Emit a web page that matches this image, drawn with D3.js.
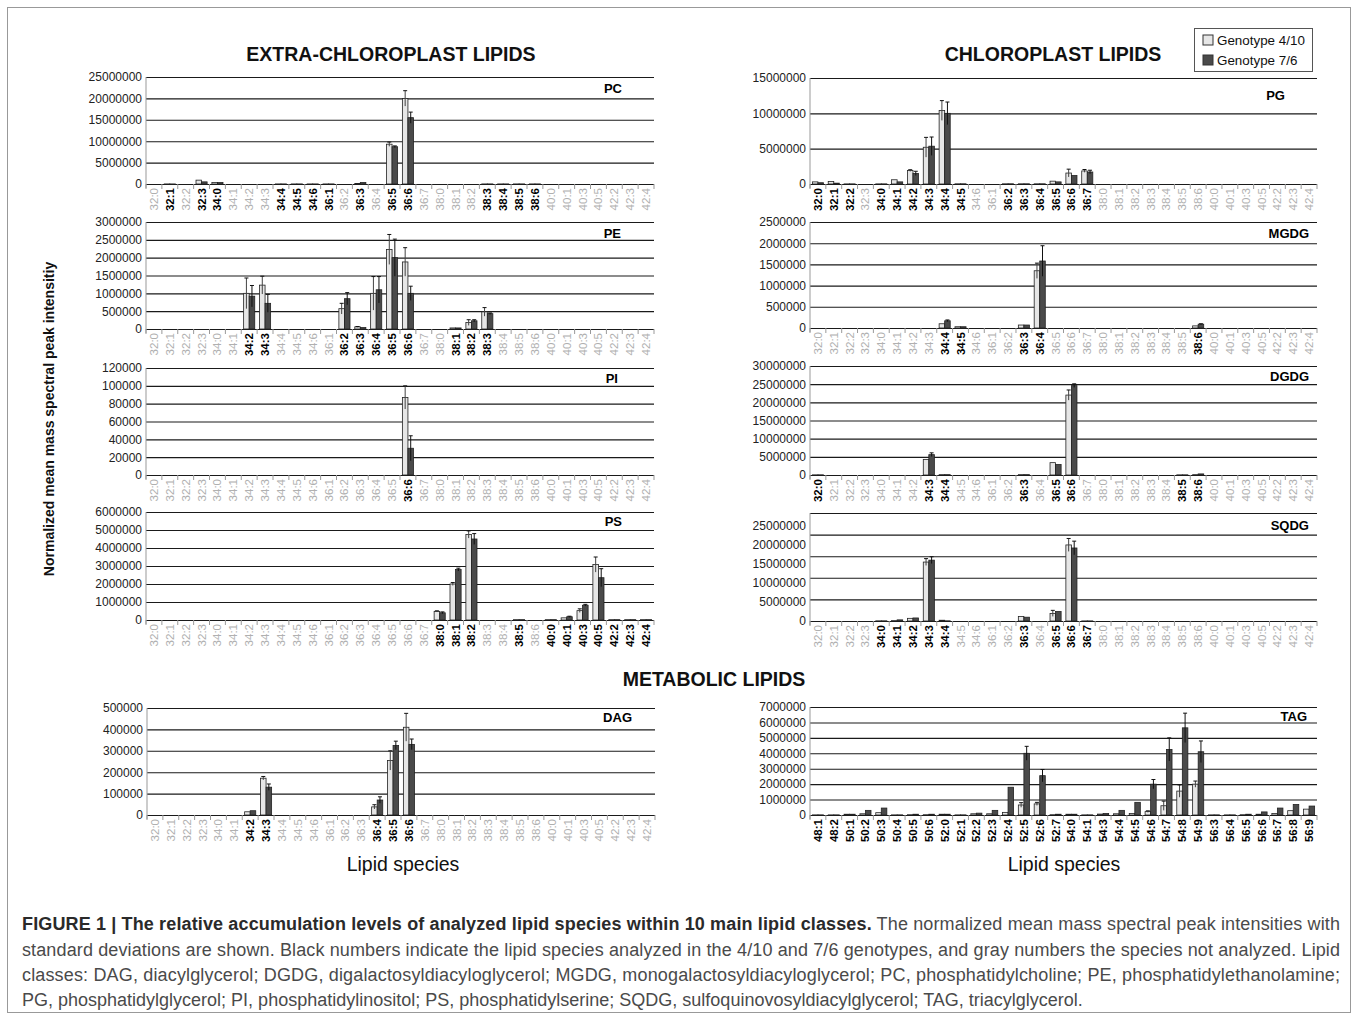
<!DOCTYPE html>
<html>
<head>
<meta charset="utf-8">
<script src="https://cdn.jsdelivr.net/npm/d3@7"></script>
<style>
  body { margin: 0; background: #fff; }
  svg { display: block; }
  text { font-family: "Liberation Sans", Arial, sans-serif; }
</style>
</head>
<body>
<svg id="fig" width="1358" height="1020"></svg>
<script>
// lipid species on the x axis of the nine phospho/galacto/sulfo lipid panels
const species = ["32:0","32:1","32:2","32:3","34:0","34:1","34:2","34:3","34:4","34:5","34:6",
  "36:1","36:2","36:3","36:4","36:5","36:6","36:7","38:0","38:1","38:2","38:3","38:4","38:5","38:6",
  "40:0","40:1","40:3","40:5","42:2","42:3","42:4"];
// TAG species
const tagSpecies = ["48:1","48:2","50:1","50:2","50:3","50:4","50:5","50:6","52:0","52:1","52:2","52:3",
  "52:4","52:5","52:6","52:7","54:0","54:1","54:3","54:4","54:5","54:6","54:7","54:8","54:9",
  "56:3","56:4","56:5","56:6","56:7","56:8","56:9"];

const genotypes = ["Genotype 4/10", "Genotype 7/6"];

// rows: [species, mean 4/10, sd 4/10, mean 7/6, sd 7/6]  (only analysed species = black labels)
const pcRows = [
  ["32:1", 20000, 0, 15000, 0], ["32:3", 900000, 0, 500000, 0], ["34:0", 350000, 0, 350000, 0],
  ["34:4", 20000, 0, 20000, 0], ["34:5", 20000, 0, 20000, 0], ["34:6", 20000, 0, 20000, 0],
  ["36:1", 20000, 0, 20000, 0], ["36:3", 100000, 0, 350000, 0],
  ["36:5", 9300000, 500000, 8700000, 200000], ["36:6", 20000000, 1800000, 15500000, 1300000],
  ["38:3", 20000, 0, 20000, 0], ["38:4", 20000, 0, 20000, 0], ["38:5", 20000, 0, 20000, 0], ["38:6", 20000, 0, 20000, 0]
];
const peRows = [
  ["34:2", 1000000, 430000, 920000, 300000], ["34:3", 1230000, 250000, 720000, 250000],
  ["36:2", 570000, 150000, 850000, 170000], ["36:3", 60000, 10000, 40000, 0],
  ["36:4", 1000000, 470000, 1100000, 370000], ["36:5", 2230000, 420000, 2000000, 520000],
  ["36:6", 1880000, 400000, 1000000, 200000], ["38:1", 30000, 0, 30000, 0],
  ["38:2", 180000, 80000, 230000, 30000], ["38:3", 480000, 120000, 430000, 20000]
];
const piRows = [
  ["36:6", 87000, 13000, 30000, 14000]
];
const psRows = [
  ["38:0", 480000, 30000, 400000, 50000], ["38:1", 2000000, 80000, 2800000, 80000],
  ["38:2", 4750000, 200000, 4500000, 300000], ["38:5", 20000, 0, 20000, 0], ["40:0", 20000, 0, 20000, 0],
  ["40:1", 120000, 0, 180000, 30000], ["40:3", 520000, 100000, 820000, 50000],
  ["40:5", 3080000, 420000, 2350000, 500000], ["42:2", 20000, 0, 20000, 0], ["42:3", 20000, 0, 20000, 0],
  ["42:4", 20000, 0, 20000, 0]
];
const pgRows = [
  ["32:0", 300000, 0, 180000, 0], ["32:1", 350000, 0, 120000, 0], ["32:2", 20000, 0, 20000, 0],
  ["34:0", 20000, 0, 20000, 0], ["34:1", 600000, 0, 300000, 0], ["34:2", 1900000, 120000, 1500000, 300000],
  ["34:3", 5200000, 1400000, 5350000, 1300000], ["34:4", 10400000, 1400000, 10000000, 1600000],
  ["34:5", 30000, 0, 30000, 0], ["36:2", 30000, 0, 30000, 0], ["36:3", 30000, 0, 30000, 0],
  ["36:4", 30000, 0, 30000, 0], ["36:5", 400000, 0, 300000, 0], ["36:6", 1550000, 550000, 1200000, 0],
  ["36:7", 1850000, 200000, 1700000, 250000]
];
const mgdgRows = [
  ["34:4", 100000, 0, 170000, 20000], ["34:5", 30000, 0, 30000, 0], ["36:3", 70000, 0, 70000, 0],
  ["36:4", 1350000, 180000, 1580000, 360000], ["38:6", 50000, 0, 90000, 10000]
];
const dgdgRows = [
  ["32:0", 50000, 0, 50000, 0], ["34:3", 4300000, 0, 5600000, 500000], ["34:4", 100000, 0, 100000, 0],
  ["36:3", 100000, 0, 100000, 0], ["36:5", 3400000, 0, 2900000, 0], ["36:6", 22000000, 1400000, 24600000, 500000],
  ["38:5", 50000, 0, 50000, 0], ["38:6", 100000, 0, 300000, 0]
];
const sqdgRows = [
  ["34:0", 50000, 0, 50000, 0], ["34:1", 100000, 0, 300000, 0], ["34:2", 700000, 0, 800000, 0],
  ["34:3", 15500000, 900000, 16000000, 900000], ["34:4", 200000, 0, 50000, 0],
  ["36:3", 1200000, 0, 1000000, 0], ["36:5", 2000000, 800000, 2500000, 0],
  ["36:6", 20000000, 1700000, 19200000, 1800000], ["36:7", 30000, 0, 30000, 0]
];
const dagRows = [
  ["34:2", 15000, 0, 20000, 0], ["34:3", 172000, 8000, 130000, 15000],
  ["36:4", 38000, 10000, 70000, 15000], ["36:5", 255000, 45000, 325000, 20000],
  ["36:6", 410000, 65000, 330000, 25000]
];
const tagRows = [
  ["48:1", 10000, 0, 10000, 0], ["48:2", 10000, 0, 10000, 0], ["50:1", 50000, 0, 50000, 0],
  ["50:2", 80000, 0, 300000, 0], ["50:3", 150000, 0, 450000, 0], ["50:4", 10000, 0, 10000, 0],
  ["50:5", 20000, 0, 50000, 0], ["50:6", 20000, 0, 50000, 0], ["52:0", 50000, 0, 50000, 0],
  ["52:1", 10000, 0, 10000, 0], ["52:2", 80000, 0, 120000, 0], ["52:3", 80000, 0, 300000, 0],
  ["52:4", 170000, 0, 1800000, 0], ["52:5", 650000, 150000, 4000000, 450000],
  ["52:6", 720000, 100000, 2550000, 400000], ["52:7", 20000, 0, 50000, 0], ["54:0", 50000, 0, 50000, 0],
  ["54:1", 10000, 0, 10000, 0], ["54:3", 60000, 0, 100000, 0], ["54:4", 80000, 0, 300000, 0],
  ["54:5", 100000, 0, 820000, 0], ["54:6", 220000, 50000, 2000000, 300000],
  ["54:7", 600000, 300000, 4250000, 750000], ["54:8", 1550000, 400000, 5650000, 950000],
  ["54:9", 2000000, 200000, 4100000, 700000], ["56:3", 10000, 0, 10000, 0], ["56:4", 10000, 0, 10000, 0],
  ["56:5", 20000, 0, 50000, 0], ["56:6", 50000, 0, 200000, 0], ["56:7", 100000, 0, 450000, 0],
  ["56:8", 280000, 0, 680000, 0], ["56:9", 380000, 0, 580000, 0]
];
// SQDG axis in the original has uneven labels over five equal grid bands
const sqdgTicks = [0, 5000000, 10000000, 15000000, 20000000, 25000000];

const svg = d3.select("#fig");
const LIGHT = "#e6e6e6", DARK = "#4a4a4a";

const L = [146, 654], R = [810, 1317];
const panels = [
  { name: "PC", rows: pcRows, cats: species, x: L, y: [77, 184], max: 25e6, step: 5e6, lab: [622, 16] },
  { name: "PE", rows: peRows, cats: species, x: L, y: [222, 329], max: 3e6, step: 5e5, lab: [621, 16] },
  { name: "PI", rows: piRows, cats: species, x: L, y: [368, 475], max: 120000, step: 20000, lab: [618, 15] },
  { name: "PS", rows: psRows, cats: species, x: L, y: [512, 620], max: 6e6, step: 1e6, lab: [622, 14] },
  { name: "DAG", rows: dagRows, cats: species, x: [147, 655], y: [708, 815], max: 500000, step: 100000, lab: [632, 14] },
  { name: "PG", rows: pgRows, cats: species, x: R, y: [78, 184], max: 15e6, step: 5e6, lab: [1285, 22] },
  { name: "MGDG", rows: mgdgRows, cats: species, x: R, y: [222, 328], max: 2.5e6, step: 5e5, lab: [1309, 16] },
  { name: "DGDG", rows: dgdgRows, cats: species, x: R, y: [366, 475], max: 30e6, step: 5e6, lab: [1309, 15] },
  { name: "SQDG", rows: sqdgRows, cats: species, x: R, y: [513, 621], max: 28.4e6, bands: 5, ticks: sqdgTicks, lab: [1309, 17] },
  { name: "TAG", rows: tagRows, cats: tagSpecies, x: R, y: [707, 815], max: 7e6, step: 1e6, lab: [1307, 14] }
];

function drawPanel(p) {
  const g = svg.append("g");
  const x = d3.scaleBand().domain(p.cats).range(p.x);
  const bw = x.bandwidth();
  const sub = d3.scaleBand().domain([0, 1]).range([bw * 0.15, bw * 0.85]);
  const y = d3.scaleLinear().domain([0, p.max]).range([p.y[1], p.y[0]]);
  const grid = p.bands ? d3.range(p.bands + 1).map(i => p.max * i / p.bands)
                       : d3.range(0, p.max + p.step / 2, p.step);

  // gridlines
  g.append("g").attr("transform", `translate(${p.x[0]},0)`)
    .call(d3.axisRight(y).tickValues(grid).tickSize(p.x[1] - p.x[0]).tickFormat(""))
    .call(a => a.select(".domain").remove())
    .call(a => a.selectAll("line").attr("stroke", "#1a1a1a").attr("stroke-width", 1.1));

  // y tick labels
  g.append("g").attr("transform", `translate(${p.x[0]},0)`)
    .call(d3.axisLeft(y).tickValues(p.ticks || grid).tickSize(0).tickPadding(4).tickFormat(d3.format("d")))
    .call(a => a.select(".domain").remove())
    .call(a => a.selectAll("text").attr("font-size", 12).attr("fill", "#222"));

  // left axis line and category separators
  g.append("line").attr("x1", p.x[0]).attr("x2", p.x[0]).attr("y1", p.y[0]).attr("y2", p.y[1] + 4)
    .attr("stroke", "#999");
  g.selectAll(".sep").data(p.cats.concat([null])).join("line")
    .attr("x1", d => d === null ? p.x[1] : x(d)).attr("x2", d => d === null ? p.x[1] : x(d))
    .attr("y1", p.y[1]).attr("y2", p.y[1] + 5).attr("stroke", "#999");

  // category labels
  const analysed = new Set(p.rows.map(r => r[0]));
  g.selectAll(".cat").data(p.cats).join("text")
    .attr("transform", d => `translate(${x(d) + bw / 2 + 4},${p.y[1] + 4}) rotate(-90)`)
    .attr("text-anchor", "end").attr("font-size", 11.5)
    .attr("font-weight", d => analysed.has(d) ? "bold" : "normal")
    .attr("fill", d => analysed.has(d) ? "#000" : "#b0b0b0")
    .text(d => d);

  // bars
  const bars = [];
  p.rows.forEach(r => {
    bars.push({ c: r[0], k: 0, v: r[1], sd: r[2] });
    bars.push({ c: r[0], k: 1, v: r[3], sd: r[4] });
  });
  g.selectAll(".bar").data(bars).join("rect")
    .attr("x", d => x(d.c) + sub(d.k)).attr("width", sub.bandwidth())
    .attr("y", d => y(d.v)).attr("height", d => y(0) - y(d.v))
    .attr("fill", d => d.k ? DARK : LIGHT).attr("stroke", "#222").attr("stroke-width", 0.8);

  // error bars
  const eb = bars.filter(d => d.sd > 0);
  const cx = d => x(d.c) + sub(d.k) + sub.bandwidth() / 2;
  g.selectAll(".err").data(eb).join("line")
    .attr("x1", cx).attr("x2", cx)
    .attr("y1", d => y(Math.max(0, d.v - d.sd))).attr("y2", d => y(d.v + d.sd))
    .attr("stroke", d => d.k ? "#111" : "#444").attr("stroke-width", 1);
  g.selectAll(".cap").data(eb).join("line")
    .attr("x1", d => cx(d) - 2).attr("x2", d => cx(d) + 2)
    .attr("y1", d => y(d.v + d.sd)).attr("y2", d => y(d.v + d.sd))
    .attr("stroke", "#111").attr("stroke-width", 1);

  // panel name
  g.append("text").attr("x", p.lab[0]).attr("y", p.y[0] + p.lab[1])
    .attr("text-anchor", "end").attr("font-size", 13).attr("font-weight", "bold").text(p.name);
}

panels.forEach(drawPanel);

// figure frame
svg.append("rect").attr("x", 7.5).attr("y", 7.5).attr("width", 1343).attr("height", 1005)
  .attr("fill", "none").attr("stroke", "#999");

// headings
const head = [
  ["EXTRA-CHLOROPLAST LIPIDS", 391, 61], ["CHLOROPLAST LIPIDS", 1053, 61], ["METABOLIC LIPIDS", 714, 686]
];
svg.selectAll(".head").data(head).join("text")
  .attr("x", d => d[1]).attr("y", d => d[2]).attr("text-anchor", "middle")
  .attr("font-size", 19.5).attr("font-weight", "bold").attr("fill", "#111").text(d => d[0]);

svg.selectAll(".xt").data([403, 1064]).join("text")
  .attr("x", d => d).attr("y", 871).attr("text-anchor", "middle").attr("font-size", 19.5)
  .attr("fill", "#111").text("Lipid species");

svg.append("text").attr("transform", "translate(54,419) rotate(-90)").attr("text-anchor", "middle")
  .attr("font-size", 14).attr("font-weight", "bold").attr("fill", "#111")
  .text("Normalized mean mass spectral peak intensitiy");

// legend
const lg = svg.append("g");
lg.append("rect").attr("x", 1194.5).attr("y", 28.5).attr("width", 118).attr("height", 43)
  .attr("fill", "#fff").attr("stroke", "#555");
lg.selectAll(".sw").data(genotypes).join("rect")
  .attr("x", 1203).attr("y", (d, i) => 35 + i * 20).attr("width", 10).attr("height", 10)
  .attr("fill", (d, i) => i ? DARK : LIGHT).attr("stroke", "#333");
lg.selectAll(".lt").data(genotypes).join("text")
  .attr("x", 1217).attr("y", (d, i) => 45 + i * 20).attr("font-size", 13.4).attr("fill", "#111").text(d => d);

// caption (justified lines)
const cap = svg.append("g").attr("font-size", 18).attr("fill", "#4a4a4a");
const l1 = cap.append("text").attr("x", 22).attr("y", 930)
  .attr("textLength", 1318).attr("lengthAdjust", "spacing");
l1.append("tspan").attr("font-weight", "bold").attr("fill", "#2a2a2a")
  .text("FIGURE 1 | The relative accumulation levels of analyzed lipid species within 10 main lipid classes.");
l1.append("tspan").text(" The normalized mean mass spectral peak intensities with");
const capLines = [
  "standard deviations are shown. Black numbers indicate the lipid species analyzed in the 4/10 and 7/6 genotypes, and gray numbers the species not analyzed. Lipid",
  "classes: DAG, diacylglycerol; DGDG, digalactosyldiacyloglycerol; MGDG, monogalactosyldiacyloglycerol; PC, phosphatidylcholine; PE, phosphatidylethanolamine;",
  "PG, phosphatidylglycerol; PI, phosphatidylinositol; PS, phosphatidylserine; SQDG, sulfoquinovosyldiacylglycerol; TAG, triacylglycerol."
];
cap.selectAll(".cl").data(capLines).join("text")
  .attr("x", 22).attr("y", (d, i) => 955.5 + i * 25.2)
  .attr("textLength", (d, i) => i < 2 ? 1318 : null).attr("lengthAdjust", "spacing")
  .text(d => d);
</script>
</body>
</html>
